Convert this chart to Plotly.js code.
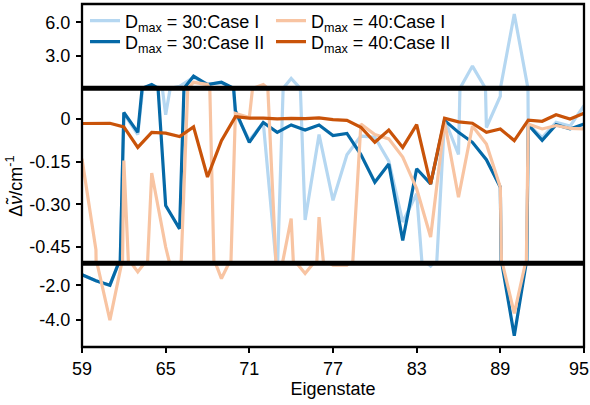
<!DOCTYPE html>
<html>
<head>
<meta charset="utf-8">
<script src="https://cdn.plot.ly/plotly-3.0.1.min.js"></script>
<style>
  html, body { margin: 0; padding: 0; background: #fff; }
  #chart { width: 590px; height: 405px; }
</style>
</head>
<body>
<div id="chart"></div>
<script>
// Eigenstate index on the x axis
const eigenstate = [59, 60, 61, 62, 63, 64, 65, 66, 67, 68, 69, 70, 71, 72, 73, 74, 75, 76, 77,
                    78, 79, 80, 81, 82, 83, 84, 85, 86, 87, 88, 89, 90, 91, 92, 93, 94, 95];

// Frequency shifts (cm^-1) for each basis-size / case combination
const d30CaseI = [-1.40, -1.75, -2.00, 0.020, -0.055, 0.40, 0.015, 0.30, 1.10, 0.50, 0.60, 0.020,
                  -0.075, -0.012, -0.55, 1.00, -0.355, -0.055, -0.286, -0.126, -0.060, -0.064,
                  -0.148, -0.362, -0.263, -0.90, 0.000, -0.125, 2.10, -0.030, 0.080, 6.76,
                  -0.020, -0.065, -0.012, -0.025, 0.047];
const d30CaseII = [-1.40, -1.75, -2.00, 0.023, -0.047, 0.45, -0.304, -0.386, 1.20, 0.45, 0.66, 0.029,
                   -0.082, -0.012, -0.047, -0.021, -0.039, -0.021, -0.058, -0.051, -0.125, -0.222,
                   -0.158, -0.427, -0.175, -0.228, -0.005, -0.047, -0.082, -0.143, -0.240, -4.90,
                   -0.020, -0.075, -0.020, -0.035, -0.018];
const d40CaseI = [-0.140, -0.460, -4.00, -0.146, -1.24, -0.190, -0.450, -0.65, 0.65, 0.45, -1.62, 0.020,
                  0.005, 0.45, -0.60, -0.350, -1.33, -0.345, -0.85, -0.85, -0.018, -0.055,
                  -0.070, -0.134, -0.245, -0.415, -0.010, -0.275, -0.025, -0.088, -0.240, -3.62,
                  -0.018, -0.035, -0.023, -0.033, -0.035];
const d40CaseII = [-0.016, -0.015, -0.015, -0.028, -0.100, -0.047, -0.050, -0.062, -0.028, -0.204, -0.076, 0.008,
                   0.003, 0.003, 0.000, 0.002, 0.001, 0.004, -0.002, -0.005, -0.029, -0.082,
                   -0.039, -0.100, -0.020, -0.229, 0.003, -0.010, -0.015, -0.047, -0.035, -0.076,
                   -0.004, -0.008, 0.015, 0.000, 0.020];

const xTicks = [59, 65, 71, 77, 83, 89, 95];
// the last label carries trailing no-break spaces so it stays inside the page edge
const xTickText = ['59', '65', '71', '77', '83', '89', '95\u00a0\u00a0'];
const topTicks = [3, 6];
const topTickText = ['3.0', '6.0'];
const midTicks = [0, -0.15, -0.30, -0.45];
const midTickText = ['0', '-0.15', '-0.30', '-0.45'];
const lowTicks = [-2, -4];
const lowTickText = ['-2.0', '-4.0'];

const series = [
  { name: 'D<sub>max</sub> = 30:Case I',  y: d30CaseI,  color: '#b5d7f1', legend: 'legend'  },
  { name: 'D<sub>max</sub> = 30:Case II', y: d30CaseII, color: '#0569a7', legend: 'legend2' },
  { name: 'D<sub>max</sub> = 40:Case I',  y: d40CaseI,  color: '#f8c4a2', legend: 'legend3' },
  { name: 'D<sub>max</sub> = 40:Case II', y: d40CaseII, color: '#c95309', legend: 'legend4' }
];

// Broken y axis: the same data drawn into three stacked panels
const panels = ['y3', 'y2', 'y'];   // top, middle, bottom
const traces = [];
series.forEach(function (s, i) {
  panels.forEach(function (ax) {
    traces.push({
      x: eigenstate, y: s.y, xaxis: 'x', yaxis: ax,
      mode: 'lines', name: s.name,
      line: { color: s.color, width: 3.2 },
      legendgroup: 'g' + i, legend: s.legend,
      showlegend: ax === 'y3', hoverinfo: 'x+y'
    });
  });
});

const FONT = 'Liberation Sans, Arial, sans-serif';
const lowTop = 0.2442, midTop = 0.7544;

const yCommon = {
  showgrid: false, zeroline: false, showline: false,
  ticks: 'outside', ticklen: 5, tickwidth: 2, tickcolor: '#000', ticklabelstandoff: 2,
  tickfont: { family: FONT, size: 18, color: '#000' }, fixedrange: true
};

function legendAt(x, y) {
  return { x: x, y: y, xanchor: 'left', yanchor: 'middle', xref: 'paper', yref: 'paper',
           bgcolor: 'rgba(0,0,0,0)', borderwidth: 0, tracegroupgap: 0,
           font: { family: FONT, size: 18, color: '#000' } };
}

const layout = {
  width: 590, height: 405,
  margin: { l: 82, r: 6, t: 3, b: 58 },
  paper_bgcolor: '#fff', plot_bgcolor: '#fff',
  font: { family: FONT, size: 18, color: '#000' },
  xaxis: {
    anchor: 'y', range: [59, 95], tickvals: xTicks, ticktext: xTickText,
    ticklabeloverflow: 'allow',
    showgrid: false, zeroline: false, showline: false,
    ticks: 'outside', ticklen: 5, tickwidth: 2, tickcolor: '#000',
    tickfont: { family: FONT, size: 18, color: '#000' },
    title: { text: 'Eigenstate', font: { family: FONT, size: 18, color: '#000' }, standoff: 4 },
    fixedrange: true
  },
  yaxis: Object.assign({}, yCommon, { domain: [0, lowTop], range: [-5.54, -0.743],
                                      tickvals: lowTicks, ticktext: lowTickText }),
  yaxis2: Object.assign({}, yCommon, { domain: [lowTop, midTop], range: [-0.507, 0.108],
                                       tickvals: midTicks, ticktext: midTickText }),
  yaxis3: Object.assign({}, yCommon, { domain: [midTop, 1], range: [0.12, 7.65],
                                       tickvals: topTicks, ticktext: topTickText }),
  legend: legendAt(0.006, 0.9477),
  legend2: legendAt(0.006, 0.8866),
  legend3: legendAt(0.3765, 0.9477),
  legend4: legendAt(0.3765, 0.8866),
  shapes: [
    { type: 'rect', xref: 'paper', yref: 'paper', x0: 0, x1: 1, y0: 0, y1: 1,
      line: { color: '#000', width: 2.3 }, layer: 'above' },
    { type: 'line', xref: 'paper', yref: 'paper', x0: 0, x1: 1, y0: lowTop, y1: lowTop,
      line: { color: '#000', width: 5 }, layer: 'above' },
    { type: 'line', xref: 'paper', yref: 'paper', x0: 0, x1: 1, y0: midTop, y1: midTop,
      line: { color: '#000', width: 5 }, layer: 'above' }
  ],
  annotations: [
    { text: 'Δ<i>ν̃</i>/cm<sup>-1</sup>', xref: 'paper', yref: 'paper',
      x: -0.1335, y: 0.47, xanchor: 'center', yanchor: 'middle', textangle: -90,
      showarrow: false, font: { family: FONT, size: 18, color: '#000' } }
  ]
};

Plotly.newPlot('chart', traces, layout, { displayModeBar: false, staticPlot: true });
</script>
</body>
</html>
